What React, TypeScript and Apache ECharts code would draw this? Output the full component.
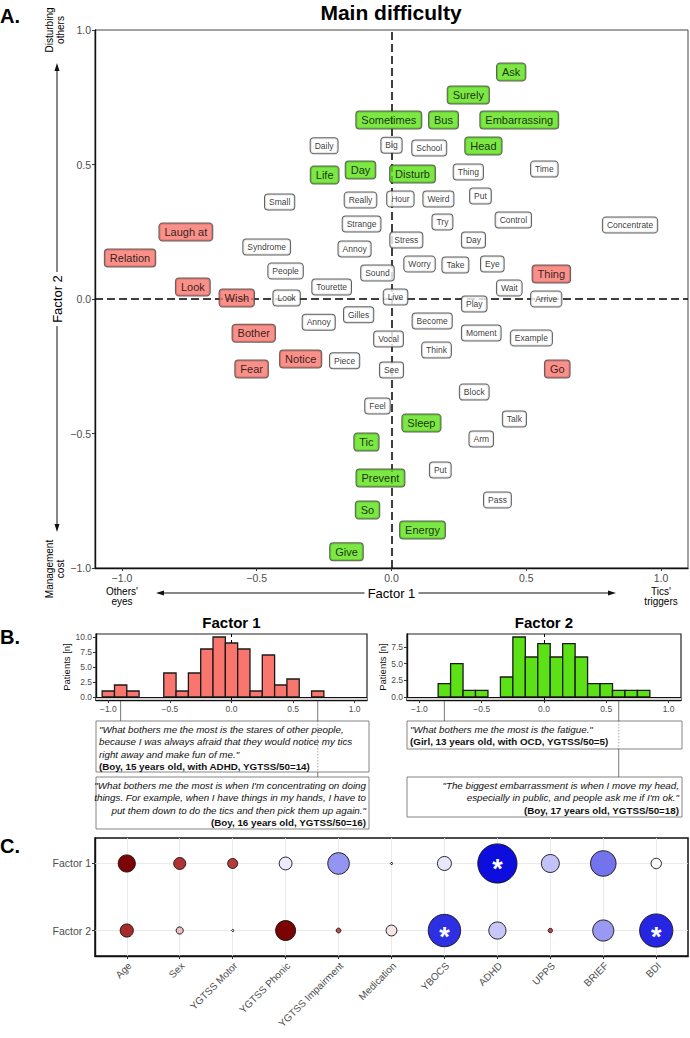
import React, { useEffect, useRef } from "react";
import * as echarts from "echarts";

const FONT = "'Liberation Sans', Arial, Helvetica, sans-serif";

// ---------- Panel A : word map ----------
const neutralWords = ["Daily", "Big", "School", "Thing", "Time", "Small", "Really", "Hour", "Weird", "Put", "Strange", "Try", "Control", "Concentrate", "Syndrome", "Annoy", "Stress", "Day", "People", "Worry", "Take", "Eye", "Sound", "Tourette", "Wait", "Live", "Arrive", "Look", "Play", "Annoy", "Gilles", "Become", "Moment", "Example", "Vocal", "Think", "Piece", "See", "Block", "Feel", "Talk", "Arm", "Put", "Pass"];
const neutralF1 = [-0.25, 0.0, 0.14, 0.285, 0.567, -0.415, -0.115, 0.033, 0.174, 0.33, -0.111, 0.189, 0.452, 0.885, -0.463, -0.137, 0.055, 0.304, -0.393, 0.104, 0.237, 0.374, -0.052, -0.222, 0.437, 0.015, 0.574, -0.389, 0.307, -0.27, -0.122, 0.151, 0.333, 0.519, -0.011, 0.167, -0.174, 0.0, 0.307, -0.052, 0.456, 0.333, 0.181, 0.393];
const neutralF2 = [0.57, 0.572, 0.561, 0.472, 0.483, 0.361, 0.368, 0.372, 0.372, 0.383, 0.279, 0.286, 0.294, 0.275, 0.193, 0.186, 0.219, 0.219, 0.104, 0.13, 0.126, 0.13, 0.097, 0.045, 0.041, 0.007, 0.0, 0.004, -0.019, -0.086, -0.059, -0.082, -0.126, -0.145, -0.149, -0.19, -0.23, -0.264, -0.346, -0.398, -0.446, -0.52, -0.636, -0.747];

const greenWords = ["Ask", "Surely", "Sometimes", "Bus", "Embarrassing", "Head", "Day", "Disturb", "Life", "Sleep", "Tic", "Prevent", "So", "Energy", "Give"];
const greenF1 = [0.444, 0.285, -0.01, 0.193, 0.474, 0.341, -0.115, 0.078, -0.248, 0.111, -0.093, -0.041, -0.089, 0.115, -0.167];
const greenF2 = [0.844, 0.758, 0.665, 0.665, 0.665, 0.569, 0.48, 0.465, 0.461, -0.461, -0.532, -0.665, -0.784, -0.859, -0.94];

const redWords = ["Laugh at", "Relation", "Look", "Wish", "Bother", "Notice", "Fear", "Thing", "Go"];
const redF1 = [-0.763, -0.97, -0.737, -0.574, -0.511, -0.337, -0.519, 0.593, 0.615];
const redF2 = [0.249, 0.152, 0.045, 0.004, -0.127, -0.223, -0.26, 0.093, -0.26];

const mapTicks = [-1, -0.5, 0, 0.5, 1];

// ---------- Panel B : histograms ----------
const binWidth = 0.1;
const bins1 = [-1.0, -0.9, -0.8, -0.5, -0.4, -0.3, -0.2, -0.1, 0.0, 0.1, 0.2, 0.3, 0.4, 0.5, 0.7];
const counts1 = [1, 2, 1, 4, 1, 4, 8, 10, 9, 8, 1, 7, 2, 3, 1];
const bins2 = [-0.8, -0.7, -0.6, -0.5, -0.3, -0.2, -0.1, 0.0, 0.1, 0.2, 0.3, 0.4, 0.5, 0.6, 0.7, 0.8];
const counts2 = [2, 5, 1, 1, 3, 9, 6, 8, 6, 8, 6, 2, 2, 1, 1, 1];
const histXTicks = [-1, -0.5, 0, 0.5, 1];
const histYTicks1 = [0, 2.5, 5, 7.5, 10];
const histYTicks2 = [0, 2.5, 5, 7.5];
const anchors1 = [-0.9, 0.7];
const anchors2 = [-0.8, 0.6];

const quoteA = ["\"What bothers me the most is the stares of other people,", "because I was always afraid that they would notice my tics", "right away and make fun of me.\""];
const quoteABy = "(Boy, 15 years old, with ADHD, YGTSS/50=14)";
const quoteB = ["\"What bothers me the most is when I'm concentrating on doing", "things. For example, when I have things in my hands, I have to", "put them down to do the tics and then pick them up again.\""];
const quoteBBy = "(Boy, 16 years old, YGTSS/50=16)";
const quoteC = ["\"What bothers me the most is the fatigue.\""];
const quoteCBy = "(Girl, 13 years old, with OCD, YGTSS/50=5)";
const quoteD = ["\"The biggest embarrassment is when I move my head,", "especially in public, and people ask me if I'm ok.\""];
const quoteDBy = "(Boy, 17 years old, YGTSS/50=18)";

// ---------- Panel C : associations ----------
const predictors = ["Age", "Sex", "YGTSS Motor", "YGTSS Phonic", "YGTSS Impairment", "Medication", "YBOCS", "ADHD", "UPPS", "BRIEF", "BDI"];
const factorRows = ["Factor 2", "Factor 1"];
const assocF1 = [0.97, 0.65, 0.6, -0.08, -0.42, 0.0, -0.1, -0.95, -0.24, -0.55, 0.02];
const assocF2 = [0.7, 0.18, 0.0, 0.98, 0.5, 0.07, -0.82, -0.22, 0.55, -0.4, -0.85];
const strengthF1 = [0.43, 0.3, 0.25, 0.32, 0.54, 0.05, 0.35, 0.98, 0.45, 0.64, 0.26];
const strengthF2 = [0.33, 0.18, 0.05, 0.5, 0.12, 0.27, 0.81, 0.43, 0.11, 0.53, 0.83];
const signifF1 = [0, 0, 0, 0, 0, 0, 0, 1, 0, 0, 0];
const signifF2 = [0, 0, 0, 0, 0, 0, 1, 0, 0, 0, 1];

const GREEN = "#5CE117";
const RED = "#F8766D";
const GREY_TXT = "#4D4D4D";

const fmtNum = (v: number) => (v < 0 ? "\u2212" : "") + Math.abs(v).toFixed(1);

function labelSeries(words: string[], xs: number[], ys: number[], bg: string, big: boolean) {
  return {
    type: "scatter",
    xAxisIndex: 0,
    yAxisIndex: 0,
    z: 6,
    silent: true,
    symbolSize: 1,
    itemStyle: { color: "rgba(0,0,0,0)" },
    data: words.map((w, i) => ({ name: w, value: [xs[i], ys[i]] })),
    label: {
      show: true,
      position: "inside",
      formatter: "{b}",
      color: "#000",
      fontFamily: FONT,
      fontSize: big ? 11 : 8.5,
      lineHeight: big ? 13 : 9,
      backgroundColor: bg,
      borderColor: "#3a3a3a",
      borderWidth: 1,
      borderRadius: 3,
      padding: big ? [2, 5, 2, 5] : [3, 4, 3, 4],
    },
    labelLayout: { hideOverlap: false },
  };
}

function histBars(xi: number, bins: number[], counts: number[], color: string) {
  return {
    type: "custom",
    xAxisIndex: xi,
    yAxisIndex: xi,
    z: 3,
    silent: true,
    data: bins.map((b, i) => [b, counts[i]]),
    encode: { x: 0, y: 1 },
    renderItem: (_p: any, api: any) => {
      const x = api.value(0);
      const c = api.value(1);
      const p0 = api.coord([x - binWidth / 2, c]);
      const p1 = api.coord([x + binWidth / 2, 0]);
      return {
        type: "rect",
        shape: { x: p0[0], y: p0[1], width: p1[0] - p0[0], height: p1[1] - p0[1] },
        style: { fill: color, stroke: "#1a1a1a", lineWidth: 1.3 },
      };
    },
  };
}

function histDecor(xi: number, yMin: number) {
  return [
    {
      type: "scatter",
      xAxisIndex: xi,
      yAxisIndex: xi,
      z: 1,
      silent: true,
      symbolSize: 0,
      data: [[0, 0]],
      markLine: {
        z: 1,
        silent: true,
        symbol: ["none", "none"],
        label: { show: false },
        lineStyle: { color: "#000", type: [4, 3], width: 1 },
        data: [{ xAxis: 0 }],
      },
      markArea: {
        z: 1,
        silent: true,
        itemStyle: { color: "#d4d4d4" },
        data: [[{ coord: [-1.1, yMin] }, { coord: [1.1, 0] }]],
      },
    },
    {
      type: "scatter",
      xAxisIndex: xi,
      yAxisIndex: xi,
      z: 4,
      silent: true,
      symbolSize: 0,
      data: [[0, 0]],
      markLine: {
        z: 4,
        silent: true,
        symbol: ["none", "none"],
        label: { show: false },
        lineStyle: { color: "#111", type: "solid", width: 1.2 },
        data: [{ yAxis: 0 }],
      },
    },
  ];
}

function valueAxis(gridIndex: number, min: number, max: number, ticks: number[], fontSize: number, fmt: (v: number) => string, extra: any = {}) {
  return {
    type: "value",
    gridIndex,
    min,
    max,
    axisLine: { show: true, onZero: false, lineStyle: { color: "#111", width: 1.4 } },
    axisTick: { show: true, customValues: ticks, length: 3, lineStyle: { color: "#333", width: 1 } },
    axisLabel: { show: true, customValues: ticks, formatter: fmt, color: GREY_TXT, fontSize, fontFamily: FONT, margin: 4 },
    splitLine: { show: false },
    minorTick: { show: false },
    ...extra,
  };
}

const C_YMIN = -0.38;
const C_YMAX = 1.38;

function buildOption() {
  const bubbleData: any[] = [];
  predictors.forEach((_, i) => {
    bubbleData.push([i, 1, assocF1[i], strengthF1[i], signifF1[i]]);
    bubbleData.push([i, 0, assocF2[i], strengthF2[i], signifF2[i]]);
  });
  const y1Min = -0.5, y1Max = 10.5, y2Min = -0.45, y2Max = 9.45;
  return {
    animation: false,
    backgroundColor: "#fff",
    textStyle: { fontFamily: FONT },
    grid: [
      { left: 95, top: 30, width: 593, height: 538, show: true, borderColor: "#444", borderWidth: 1 },
      { left: 96, top: 634, width: 271, height: 66, show: true, borderColor: "#222", borderWidth: 1.2 },
      { left: 407, top: 634, width: 274, height: 66, show: true, borderColor: "#222", borderWidth: 1.2 },
      { left: 95, top: 838, width: 593, height: 118, show: true, borderColor: "#111", borderWidth: 1.5 },
    ],
    xAxis: [
      valueAxis(0, -1.1, 1.1, mapTicks, 10.5, fmtNum),
      valueAxis(1, -1.1, 1.1, histXTicks, 8.5, fmtNum),
      valueAxis(2, -1.1, 1.1, histXTicks, 8.5, fmtNum),
      valueAxis(3, -0.6, 10.6, predictors.map((_, i) => i), 10, (v: number) => predictors[Math.round(v)] ?? "", {
        axisLabel: { show: false },
      }),
    ],
    yAxis: [
      valueAxis(0, -1, 1, mapTicks, 10.5, fmtNum),
      valueAxis(1, y1Min, y1Max, histYTicks1, 8.5, (v: number) => v.toFixed(1), {
        name: "Patients [n]",
        nameLocation: "middle",
        nameGap: 24,
        nameTextStyle: { fontSize: 9.5, color: "#111", fontFamily: FONT },
      }),
      valueAxis(2, y2Min, y2Max, histYTicks2, 8.5, (v: number) => v.toFixed(1), {
        name: "Patients [n]",
        nameLocation: "middle",
        nameGap: 20,
        nameTextStyle: { fontSize: 9.5, color: "#111", fontFamily: FONT },
      }),
      valueAxis(3, C_YMIN, C_YMAX, [0, 1], 10.5, (v: number) => factorRows[Math.round(v)] ?? ""),
    ],
    visualMap: {
      type: "continuous",
      show: false,
      seriesIndex: 11,
      dimension: 2,
      min: -1,
      max: 1,
      inRange: { color: ["#0000DC", "#8080F0", "#FFFFFF", "#C84848", "#780000"] },
    },
    series: [
      // 0: dashed reference lines in panel A
      {
        type: "scatter",
        xAxisIndex: 0,
        yAxisIndex: 0,
        z: 1,
        silent: true,
        symbolSize: 0,
        data: [[0, 0]],
        markLine: {
          z: 1,
          silent: true,
          symbol: ["none", "none"],
          label: { show: false },
          lineStyle: { color: "#000", type: [8, 4], width: 1.5 },
          data: [{ xAxis: 0 }, { yAxis: 0 }],
        },
      },
      labelSeries(neutralWords, neutralF1, neutralF2, "#fff", false), // 1
      labelSeries(greenWords, greenF1, greenF2, GREEN, true), // 2
      labelSeries(redWords, redF1, redF2, RED, true), // 3
      ...histDecor(1, y1Min), // 4,5
      histBars(1, bins1, counts1, RED), // 6
      ...histDecor(2, y2Min), // 7,8
      histBars(2, bins2, counts2, GREEN), // 9
      // 10: grid lines panel C
      {
        type: "scatter",
        xAxisIndex: 3,
        yAxisIndex: 3,
        z: 1,
        silent: true,
        symbolSize: 0,
        data: [[0, 0]],
        markLine: {
          z: 1,
          silent: true,
          symbol: ["none", "none"],
          label: { show: false },
          lineStyle: { color: "#e4e4e4", type: "solid", width: 0.8 },
          data: [
            ...predictors.map((_, i) => ({ xAxis: i })),
            ...factorRows.map((_, j) => ({ yAxis: j })),
          ],
        },
      },
      // 11: bubbles
      {
        type: "scatter",
        xAxisIndex: 3,
        yAxisIndex: 3,
        z: 5,
        silent: true,
        data: bubbleData,
        symbolSize: (v: number[]) => Math.max(2, 40 * v[3]),
        itemStyle: { borderColor: "#111", borderWidth: 0.9, opacity: 1 },
        label: {
          show: true,
          position: "inside",
          formatter: (p: any) => (p.value[4] ? "*" : ""),
          color: "#fff",
          fontSize: 27,
          fontWeight: "bold",
          fontFamily: FONT,
          offset: [0, 6],
        },
      },
    ],
  };
}

function txt(x: number, y: number, text: string, size: number, opts: any = {}) {
  const { rotation, weight, align, color, lineHeight } = opts;
  return {
    type: "text",
    x,
    y,
    rotation: rotation ?? 0,
    silent: true,
    style: {
      text,
      fontFamily: FONT,
      fontSize: size,
      fontWeight: weight ?? "normal",
      fill: color ?? "#000",
      align: align ?? "center",
      verticalAlign: "middle",
      lineHeight: lineHeight ?? size * 1.1,
    },
  };
}

function line(x1: number, y1: number, x2: number, y2: number, color = "#111", w = 1, dash?: number[]) {
  return {
    type: "line",
    silent: true,
    shape: { x1, y1, x2, y2 },
    style: { stroke: color, lineWidth: w, lineDash: dash },
  };
}

function tri(points: number[][]) {
  return { type: "polygon", silent: true, shape: { points }, style: { fill: "#111" } };
}

function quoteBox(x: number, y: number, w: number, h: number, lines: string[], by: string, alignRight: boolean) {
  const rich = {
    i: { fontStyle: "italic", fontSize: 9.8, lineHeight: 12.4, fontFamily: FONT, fill: "#111" },
    b: { fontWeight: "bold", fontSize: 9.8, lineHeight: 12.4, fontFamily: FONT, fill: "#111" },
  };
  return [
    { type: "rect", silent: true, shape: { x, y, width: w, height: h }, style: { fill: "#fff", stroke: "#777", lineWidth: 0.9 }, z: 10 },
    {
      type: "text",
      silent: true,
      z: 11,
      x: alignRight ? x + w - 3 : x + 3,
      y: y + 2,
      style: {
        text: lines.map((l) => `{i|${l}}`).join("\n") + `\n{b|${by}}`,
        rich,
        align: alignRight ? "right" : "left",
        verticalAlign: "top",
        fill: "#111",
      },
    },
  ];
}

function buildGraphics(chart: any) {
  const px = (g: number, p: number[]) => chart.convertToPixel({ gridIndex: g }, p) as number[];
  const g: any[] = [];
  // Panel letters and titles
  g.push(txt(0, 16, "A.", 20, { weight: "bold", align: "left" }));
  g.push(txt(391, 12, "Main difficulty", 21, { weight: "bold" }));
  g.push(txt(0, 637, "B.", 20, { weight: "bold", align: "left" }));
  g.push(txt(0, 846, "C.", 20, { weight: "bold", align: "left" }));

  // Panel A axis annotations
  const ax0 = px(0, [0, 0]);
  const cx = (95 + 688) / 2;
  g.push(txt(cx, 593, "Factor 1", 13));
  g.push(line(161, 593, cx - 27, 593, "#111", 1));
  g.push(line(cx + 27, 593, 611, 593, "#111", 1));
  g.push(tri([[156, 593], [164, 590.5], [164, 595.5]]));
  g.push(tri([[616, 593], [608, 590.5], [608, 595.5]]));
  g.push(txt(px(0, [-1, 0])[0], 596, "Others'\neyes", 10, { lineHeight: 10 }));
  g.push(txt(px(0, [1, 0])[0], 596, "Tics'\ntriggers", 10, { lineHeight: 10 }));

  const cy = ax0[1];
  g.push(txt(57, cy, "Factor 2", 13, { rotation: Math.PI / 2 }));
  g.push(line(57, 68, 57, cy - 27, "#111", 1));
  g.push(line(57, cy + 27, 57, 527, "#111", 1));
  g.push(tri([[57, 63], [54.5, 71], [59.5, 71]]));
  g.push(tri([[57, 532], [54.5, 524], [59.5, 524]]));
  g.push(txt(55, 30, "Disturbing\nothers", 10, { rotation: Math.PI / 2, lineHeight: 10.5 }));
  g.push(txt(55, 569, "Management\ncost", 10, { rotation: Math.PI / 2, lineHeight: 10.5 }));

  // Panel B titles
  const h1l = px(1, [-1.1, 0])[0], h1r = px(1, [1.1, 0])[0];
  const h2l = px(2, [-1.1, 0])[0], h2r = px(2, [1.1, 0])[0];
  g.push(txt((h1l + h1r) / 2, 622, "Factor 1", 15, { weight: "bold" }));
  g.push(txt((h2l + h2r) / 2, 622, "Factor 2", 15, { weight: "bold" }));

  // Quote boxes
  const bTop1 = 721, bH1 = 51, bTop2 = 777, bH2 = 52;
  const bH3 = 28, bH4 = 40;
  g.push(...quoteBox(96, bTop1, 273, bH1, quoteA, quoteABy, false));
  g.push(...quoteBox(96, bTop2, 273, bH2, quoteB, quoteBBy, true));
  g.push(...quoteBox(407, bTop1, 275, bH3, quoteC, quoteCBy, false));
  g.push(...quoteBox(407, bTop2, 275, bH4, quoteD, quoteDBy, true));

  const h1Bottom = px(1, [0, -0.5])[1] + 1;
  const h2Bottom = px(2, [0, -0.45])[1] + 1;
  const a1 = anchors1.map((a) => px(1, [a, 0])[0]);
  const a2 = anchors2.map((a) => px(2, [a, 0])[0]);
  const c = "#555";
  g.push({ ...line(a1[0], h1Bottom, a1[0], bTop1, c, 0.8), z: 12 });
  g.push({ ...line(a1[1], h1Bottom, a1[1], bTop1, c, 0.8), z: 12 });
  g.push({ ...line(a1[1], bTop1, a1[1], bTop1 + bH1, "#888", 0.7, [1.5, 1.5]), z: 12 });
  g.push({ ...line(a1[1], bTop1 + bH1, a1[1], bTop2, c, 0.8), z: 12 });
  g.push({ ...line(a2[0], h2Bottom, a2[0], bTop1, c, 0.8), z: 12 });
  g.push({ ...line(a2[1], h2Bottom, a2[1], bTop1, c, 0.8), z: 12 });
  g.push({ ...line(a2[1], bTop1, a2[1], bTop1 + bH3, "#888", 0.7, [1.5, 1.5]), z: 12 });
  g.push({ ...line(a2[1], bTop1 + bH3, a2[1], bTop2, c, 0.8), z: 12 });

  // Panel C rotated category labels (anchored at the axis ticks)
  predictors.forEach((name, i) => {
    const p = px(3, [i, C_YMIN]);
    g.push(txt(p[0] + 3, p[1] + 8, name, 10, { rotation: Math.PI / 4, align: "right", color: GREY_TXT }));
  });
  return g;
}

export default function App() {
  const ref = useRef<HTMLDivElement>(null);
  useEffect(() => {
    if (!ref.current) return;
    const chart = echarts.init(ref.current, undefined, { renderer: "svg" });
    chart.setOption(buildOption() as any);
    chart.setOption({ graphic: buildGraphics(chart) } as any);
    return () => chart.dispose();
  }, []);
  return (
    <div
      ref={ref}
      style={{ position: "fixed", left: 0, top: 0, width: 690, height: 1038, background: "#fff" }}
    />
  );
}
